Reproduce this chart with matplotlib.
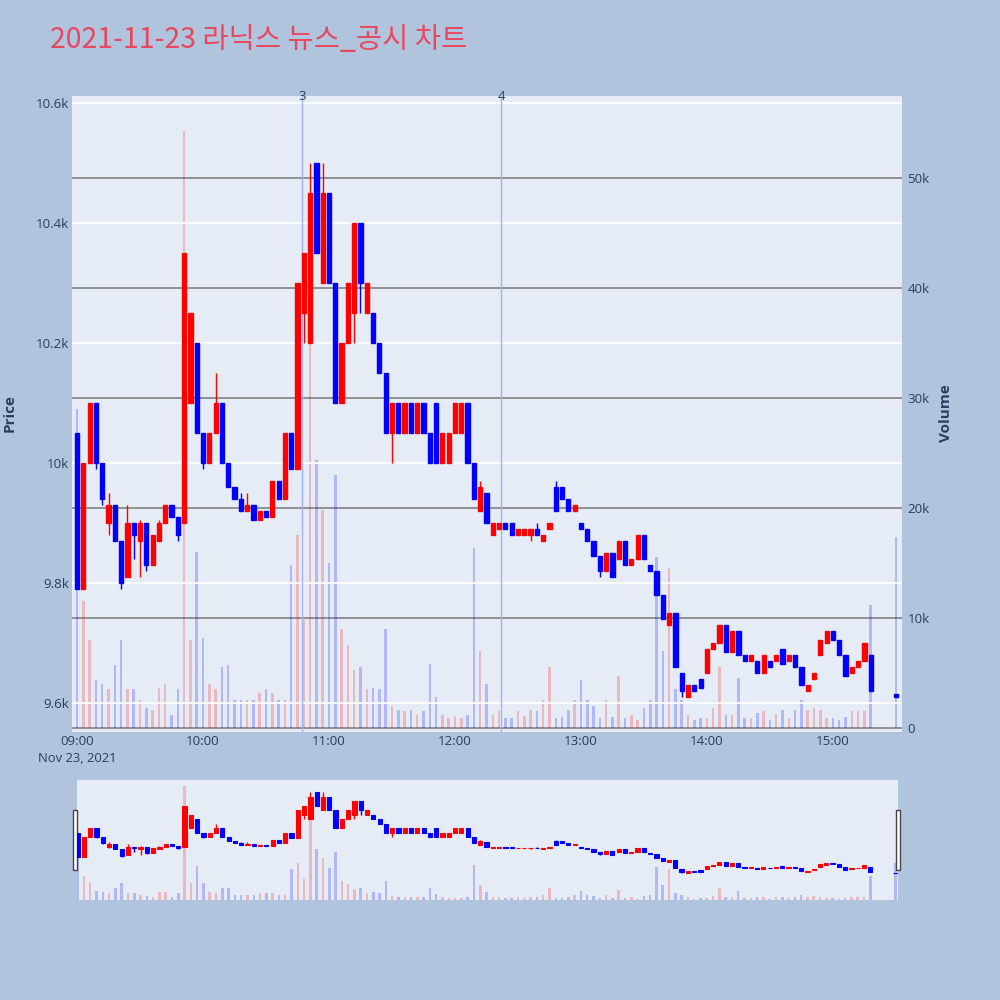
import matplotlib
matplotlib.use('Agg')
import matplotlib.pyplot as plt
import matplotlib.dates as mdates
from matplotlib.patches import Rectangle
from matplotlib.ticker import FixedLocator, FuncFormatter
import pandas as pd

plt.rcParams['font.family'] = ['Open Sans', 'Noto Sans CJK KR', 'DejaVu Sans']

# ---------------- data (3-minute candles, plus closing auction) ----------------
times = list(pd.date_range('2021-11-23 09:00', periods=127, freq='3min')) + [pd.Timestamp('2021-11-23 15:30')]

opens = [10050, 9790, 10000, 10100, 10000, 9900, 9930, 9870, 9810, 9900,
         9870, 9900, 9830, 9870, 9900, 9930, 9910, 9900, 10100, 10200,
         10050, 10000, 10050, 10100, 10000, 9960, 9940, 9920, 9930, 9905,
         9920, 9910, 9970, 9940, 10050, 9990, 10250, 10200, 10500, 10300,
         10450, 10300, 10100, 10200, 10250, 10400, 10250, 10250, 10200, 10150,
         10050, 10100, 10050, 10100, 10050, 10100, 10050, 10100, 10000, 10000,
         10050, 10050, 10100, 10000, 9920, 9950, 9880, 9890, 9900, 9900,
         9880, 9880, 9880, 9890, 9870, 9890, 9960, 9960, 9940, 9920,
         9900, 9890, 9870, 9845, 9820, 9850, 9840, 9870, 9830, 9840,
         9880, 9830, 9820, 9780, 9730, 9750, 9650, 9610, 9630, 9640,
         9650, 9690, 9700, 9730, 9685, 9720, 9680, 9670, 9670, 9650,
         9670, 9670, 9690, 9670, 9680, 9660, 9620, 9640, 9680, 9700,
         9720, 9705, 9680, 9650, 9660, 9670, 9680, 9615]

closes = [9790, 10000, 10100, 10000, 9940, 9930, 9870, 9800, 9900, 9880,
          9900, 9830, 9880, 9900, 9930, 9910, 9880, 10350, 10250, 10050,
          10000, 10050, 10100, 10000, 9960, 9940, 9920, 9930, 9905, 9920,
          9910, 9970, 9940, 10050, 9990, 10300, 10350, 10450, 10350, 10450,
          10300, 10100, 10200, 10300, 10400, 10300, 10300, 10200, 10150, 10050,
          10100, 10050, 10100, 10050, 10100, 10050, 10000, 10000, 10050, 10050,
          10100, 10100, 10000, 9940, 9960, 9900, 9900, 9900, 9890, 9880,
          9890, 9890, 9890, 9880, 9880, 9900, 9920, 9940, 9920, 9930,
          9890, 9870, 9845, 9820, 9850, 9810, 9870, 9830, 9840, 9880,
          9840, 9820, 9780, 9740, 9750, 9660, 9620, 9630, 9620, 9625,
          9690, 9700, 9730, 9685, 9720, 9680, 9670, 9680, 9650, 9680,
          9660, 9680, 9665, 9680, 9660, 9630, 9630, 9650, 9705, 9720,
          9705, 9680, 9645, 9660, 9670, 9700, 9620, 9610]

high_wicks = {5: 9950, 8: 9930, 10: 9905, 13: 9905, 22: 10150, 26: 9950, 27: 9950,
              37: 10500, 39: 10500, 64: 9970, 73: 9900, 76: 9970}
low_wicks = {3: 9990, 4: 9930, 5: 9880, 7: 9790, 9: 9840, 10: 9810, 11: 9820, 16: 9870,
             20: 9990, 36: 10200, 44: 10200, 45: 10250, 50: 10000, 72: 9870, 83: 9810, 96: 9610}

volumes = [29000, 11500, 8000, 4400, 4000, 3500, 5700, 8000, 3500, 3500,
           2500, 1800, 1600, 3600, 4000, 1200, 3500, 54300, 8000, 16000,
           8200, 4000, 3500, 5500, 5700, 2500, 2500, 2500, 2500, 3200,
           3500, 3200, 2500, 2500, 14800, 17500, 9800, 46600, 24400, 19800,
           15000, 23000, 9000, 7500, 5300, 5500, 3500, 3600, 3500, 9000,
           2000, 1600, 1500, 1600, 1200, 1500, 5800, 2800, 1200, 900,
           1100, 900, 1200, 16400, 7000, 4000, 1200, 1500, 900, 900,
           1500, 1100, 1600, 1500, 2500, 5500, 900, 1000, 1600, 2500,
           4400, 2500, 2000, 900, 2500, 1000, 4700, 900, 1200, 700,
           1800, 2500, 15500, 7000, 14500, 3500, 2500, 1200, 700, 900,
           900, 1800, 5500, 1200, 1200, 4500, 900, 900, 1400, 1500,
           700, 1300, 1600, 900, 1600, 2500, 1600, 1800, 1600, 900,
           900, 700, 1000, 1500, 1500, 1500, 11200, 17400]

news_times = [pd.Timestamp('2021-11-23 10:47'), pd.Timestamp('2021-11-23 12:22')]
news_labels = ['3', '4']

price_ticks = [9600, 9800, 10000, 10200, 10400, 10600]
volume_ticks = [0, 10000, 20000, 30000, 40000, 50000]
title = '2021-11-23 라닉스 뉴스_공시 차트'

# ---------------- derived ----------------
x = mdates.date2num(times)
highs = [high_wicks.get(i, max(o, c)) for i, (o, c) in enumerate(zip(opens, closes))]
lows = [low_wicks.get(i, min(o, c)) for i, (o, c) in enumerate(zip(opens, closes))]
up = [c > o for o, c in zip(opens, closes)]
ccol = ['#ff0000' if u else '#0000ff' for u in up]
vcol = [(1, 0, 0, 0.22) if u else (0, 0, 1, 0.22) for u in up]
minute = 1 / 1440.0
t0 = mdates.date2num(pd.Timestamp('2021-11-23 09:00'))

BG = '#b0c4de'
PLOT_BG = '#e5ecf6'
TXT = '#2a3f5f'

fig = plt.figure(figsize=(10, 10), dpi=100)
fig.patch.set_facecolor(BG)


def draw_candles(axp, body_w, lw):
    axp.vlines(x, lows, highs, colors=ccol, linewidth=1.0, zorder=3)
    heights = [max(abs(c - o), 0.1) for o, c in zip(opens, closes)]
    bottoms = [min(o, c) for o, c in zip(opens, closes)]
    axp.bar(x, heights, bottom=bottoms, width=body_w, color=ccol, edgecolor=ccol,
            linewidth=lw, zorder=4)


# ---------------- main chart ----------------
ax = fig.add_axes([0.072, 0.268, 0.830, 0.636])
ax2 = ax.twinx()
ax.set_zorder(2)
ax2.set_zorder(1)
ax.patch.set_visible(False)
ax2.patch.set_visible(True)
ax2.patch.set_facecolor(PLOT_BG)

ax2.bar(x, volumes, width=1.2 * minute, color=vcol, linewidth=0, zorder=2)
ax2.set_ylim(-364, 57455)
ax2.yaxis.set_major_locator(FixedLocator(volume_ticks))
ax2.yaxis.set_major_formatter(FuncFormatter(lambda v, p: '0' if v == 0 else f'{int(v/1000)}k'))
ax2.grid(axis='y', color='#8a8a8a', linewidth=1.3)
ax2.set_axisbelow(True)

draw_candles(ax, 2.0 * minute, 1.0)
ax.set_ylim(9551.7, 10611.7)
ax.set_xlim(t0 - 2.4 * minute, t0 + 392.9 * minute)
ax.yaxis.set_major_locator(FixedLocator(price_ticks))
ax.yaxis.set_major_formatter(FuncFormatter(
    lambda v, p: f'{v/1000:g}k'))
ax.grid(axis='y', color='white', linewidth=1.3, zorder=1)
ax.grid(axis='x', visible=False)
ax.set_axisbelow(True)

ax.xaxis.set_major_locator(mdates.HourLocator())
ax.xaxis.set_major_formatter(mdates.DateFormatter('%H:%M'))

for a in (ax, ax2):
    for s in a.spines.values():
        s.set_visible(False)
    a.tick_params(length=0, labelsize=9.6, labelcolor=TXT)
ax.tick_params(axis='y', pad=2)
ax.tick_params(axis='x', pad=2)
ax2.tick_params(axis='y', pad=4)

for t, lab in zip(news_times, news_labels):
    xv = mdates.date2num(t)
    ax.axvline(xv, color='#a3b5f0', linewidth=1.0, zorder=2.5)
    ax.text(xv, 10611.7, lab, ha='center', va='center', fontsize=9.5, color=TXT)

fig.text(0.077, 0.241, 'Nov 23, 2021', ha='center', va='center', fontsize=9.4, color=TXT)
fig.text(0.010, 0.587, 'Price', rotation=90, ha='center', va='center', fontsize=11,
         color=TXT, fontweight='bold')
fig.text(0.946, 0.587, 'Volume', rotation=90, ha='center', va='center', fontsize=11,
         color=TXT, fontweight='bold')
fig.text(0.05, 0.960, title, ha='left', va='center', fontsize=20.5, color='#e8485f',
         family=['Noto Sans CJK KR', 'DejaVu Sans'])

# ---------------- range slider ----------------
rs = fig.add_axes([0.077, 0.100, 0.821, 0.120])
rs2 = rs.twinx()
rs.set_zorder(2)
rs2.set_zorder(1)
rs.patch.set_visible(False)
rs2.patch.set_visible(True)
rs2.patch.set_facecolor(PLOT_BG)
rs2.bar(x, volumes, width=1.2 * minute, color=vcol, linewidth=0)
rs2.set_ylim(0, 57000)
draw_candles(rs, 2.0 * minute, 0.8)
rs.set_ylim(9313, 10632)
rs.set_xlim(t0 - 0.3 * minute, t0 + 391.2 * minute)
for a in (rs, rs2):
    a.set_xticks([])
    a.set_yticks([])
    for s in a.spines.values():
        s.set_visible(False)

for hx in (0.073, 0.896):
    fig.patches.append(Rectangle((hx, 0.130), 0.004, 0.060, transform=fig.transFigure,
                                 facecolor='white', edgecolor='#444444', linewidth=1.0))

fig.savefig('out.png', dpi=100, facecolor=BG)
